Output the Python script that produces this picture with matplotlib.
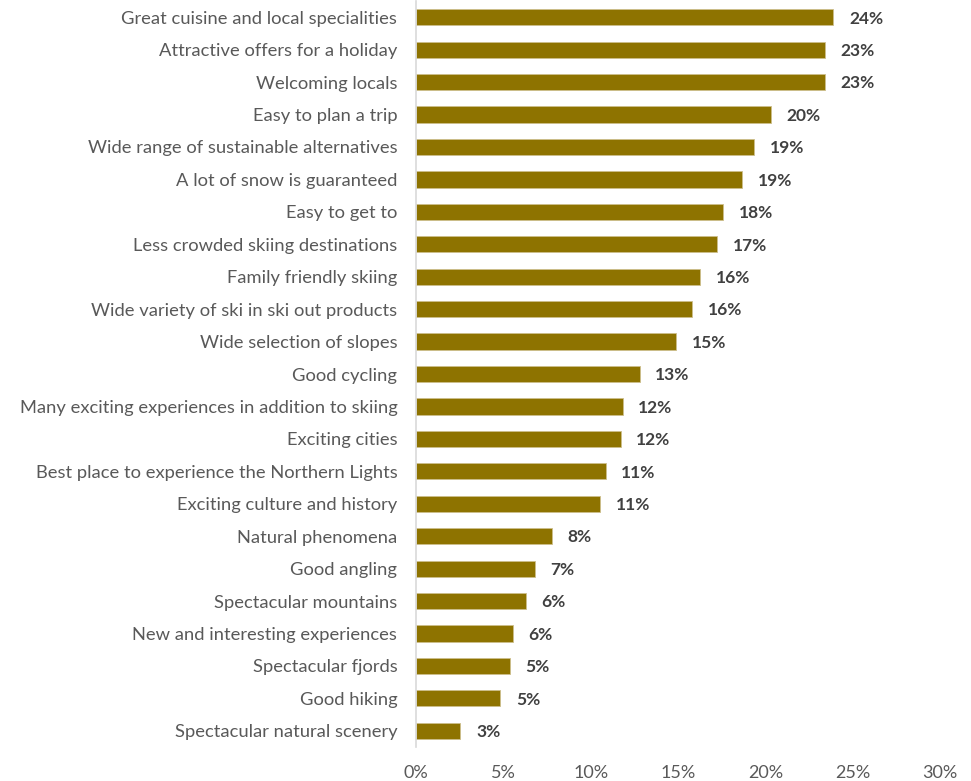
import numpy as np
import matplotlib.pyplot as plt

categories = [
    "Great cuisine and local specialities",
    "Attractive offers for a holiday",
    "Welcoming locals",
    "Easy to plan a trip",
    "Wide range of sustainable alternatives",
    "A lot of snow is guaranteed",
    "Easy to get to",
    "Less crowded skiing destinations",
    "Family friendly skiing",
    "Wide variety of ski in ski out products",
    "Wide selection of slopes",
    "Good cycling",
    "Many exciting experiences in addition to skiing",
    "Exciting cities",
    "Best place to experience the Northern Lights",
    "Exciting culture and history",
    "Natural phenomena",
    "Good angling",
    "Spectacular mountains",
    "New and interesting experiences",
    "Spectacular fjords",
    "Good hiking",
    "Spectacular natural scenery",
]
shares = [23.9, 23.4, 23.4, 20.3, 19.35, 18.66, 17.6, 17.25, 16.25, 15.8,
          14.87, 12.8, 11.83, 11.71, 10.85, 10.56, 7.76, 6.8, 6.27, 5.54,
          5.37, 4.82, 2.54]
xticks = [0, 5, 10, 15, 20, 25, 30]

bar_color = '#8E7300'
text_gray = '#595959'

plt.rcParams['font.family'] = ['Lato', 'DejaVu Sans']

fig = plt.figure(figsize=(9.71, 7.81), dpi=100)
ax = fig.add_axes([416 / 971, 1 - 747 / 781, 524 / 971, 746 / 781])

y = np.arange(len(categories))
ax.barh(y, shares, height=0.5, color=bar_color, edgecolor='#CDBF8C',
        linewidth=0.6)

# value labels to the right of each bar
for yi, v in zip(y, shares):
    ax.text(v + 0.9, yi + 0.04, "{:.0f}%".format(v), va='center',
            ha='left', fontsize=12.5, fontweight='bold', color='#404040')

ax.set_ylim(len(categories) - 0.5, -0.5)
ax.set_xlim(0, 30)
ax.set_yticks(y)
ax.set_yticklabels(categories, fontsize=13.2, color=text_gray)
ax.set_xticks(xticks)
ax.set_xticklabels(["{}%".format(t) for t in xticks], fontsize=13,
                   color=text_gray)

ax.tick_params(axis='both', length=0)
ax.tick_params(axis='y', pad=13.5)
ax.tick_params(axis='x', pad=13)
for side in ('top', 'right', 'bottom'):
    ax.spines[side].set_visible(False)
ax.spines['left'].set_color('#D9D9D9')
ax.spines['left'].set_linewidth(1.2)

fig.savefig('out.png', dpi=100)
